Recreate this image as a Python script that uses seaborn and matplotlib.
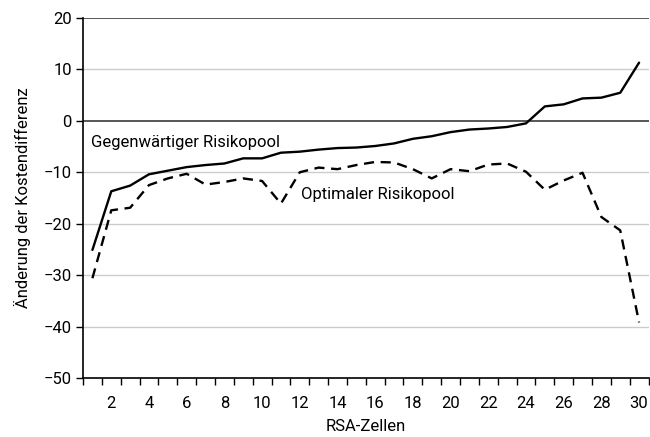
import matplotlib
matplotlib.use("Agg")
import matplotlib.pyplot as plt
import seaborn as sns
import pandas as pd
import numpy as np

zellen = list(range(1, 31))
gegenwaertig = [-25.1, -13.7, -12.6, -10.4, -9.7, -9.0, -8.6, -8.3, -7.3, -7.3,
                -6.2, -6.0, -5.6, -5.3, -5.2, -4.9, -4.4, -3.5, -3.0, -2.2,
                -1.7, -1.5, -1.2, -0.5, 2.8, 3.2, 4.35, 4.5, 5.45, 11.3]
optimal = [-30.6, -17.4, -16.9, -12.5, -11.2, -10.3, -12.4, -11.9, -11.2, -11.7,
           -16.1, -10.0, -9.1, -9.4, -8.6, -8.0, -8.1, -9.4, -11.2, -9.4,
           -9.8, -8.5, -8.3, -9.9, -13.4, -11.6, -10.1, -18.7, -21.3, -39.2]
serien = ["Gegenwärtiger Risikopool", "Optimaler Risikopool"]
y_ticks = [-50, -40, -30, -20, -10, 0, 10, 20]
x_ticklabels = [str(v) if v % 2 == 0 else "" for v in zellen]

df = pd.DataFrame({
    "Zelle": zellen * 2,
    "Wert": gegenwaertig + optimal,
    "Serie": [serien[0]] * len(zellen) + [serien[1]] * len(zellen),
})

sns.set_style("white")
plt.rcParams["font.family"] = ["Roboto", "DejaVu Sans"]
plt.rcParams["text.color"] = "black"
plt.rcParams["axes.labelcolor"] = "black"
plt.rcParams["xtick.color"] = "black"
plt.rcParams["ytick.color"] = "black"
FS = 12

fig = plt.figure(figsize=(6.5, 4.37), dpi=100)
ax = fig.add_axes([0.1277, 0.135, 0.87, 0.824])

# gridlines
for yv in y_ticks:
    if yv in (0, 20):
        ax.axhline(yv, color="#4a4a4a", lw=1.3, zorder=1)
    elif yv != -50:
        ax.axhline(yv, color="#cccccc", lw=1.0, zorder=1)

sns.lineplot(data=df, x="Zelle", y="Wert", style="Serie", ax=ax,
             color="black", linewidth=1.7,
             dashes={serien[0]: "", serien[1]: (4.3, 2.8)},
             legend=False, zorder=3)

ax.set_xlim(0.5, 30.5)
ax.set_ylim(-50, 20)
ax.set_yticks(y_ticks)
ax.set_yticklabels([("\u2212" + str(-v)) if v < 0 else str(v) for v in y_ticks])
ax.set_xticks(zellen)
ax.set_xticklabels(x_ticklabels)
ax.set_xticks([v + 0.5 for v in range(0, 31)], minor=True)
ax.tick_params(axis="x", which="major", length=0, pad=13, labelsize=FS)
ax.tick_params(axis="x", which="minor", length=5, width=1, color="black",
               direction="out", bottom=True)
ax.tick_params(axis="y", length=5, width=1, color="black", direction="out",
               left=True, labelsize=FS, pad=3)

for s in ["top", "right"]:
    ax.spines[s].set_visible(False)
for s in ["left", "bottom"]:
    ax.spines[s].set_color("black")
    ax.spines[s].set_linewidth(1.2)

ax.set_xlabel("RSA-Zellen", fontsize=FS, labelpad=6)
ax.set_ylabel("Änderung der Kostendifferenz", fontsize=FS, labelpad=9)

ax.text(0.95, -4.2, serien[0], fontsize=FS, va="center", ha="left")
ax.text(12.05, -14.3, serien[1], fontsize=FS, va="center", ha="left")

fig.savefig("out.png", dpi=100)
